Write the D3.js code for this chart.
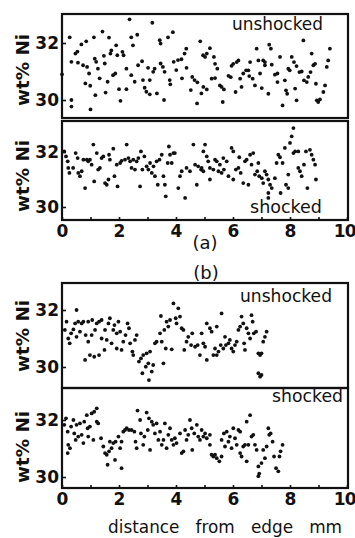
<!DOCTYPE html>
<html>
<head>
<meta charset="utf-8">
<script src="https://cdn.jsdelivr.net/npm/d3@7"></script>
<style>
  body { margin: 0; background: #fff; }
  svg { display: block; }
  text { font-family: "DejaVu Sans", sans-serif; fill: #111; }
  .tick line { stroke: #111; stroke-width: 1.6; }
  .tick text { font-size: 17px; font-weight: bold; }
</style>
</head>
<body>
<svg id="chart" width="355" height="538"></svg>
<script>
// Ni content (wt%) vs distance from edge (mm)
const aUnshocked = [
  [0.0,30.9],[0.27,32.2],[0.33,30.0],[0.33,29.77],[0.33,31.34],[0.47,31.63],[0.54,31.7],[0.68,31.95],
  [0.85,32.06],[0.56,31.31],[0.74,31.22],[0.88,31.16],[0.95,30.93],[0.82,30.58],[0.99,30.5],[1.0,29.67],
  [1.12,32.2],[1.15,31.45],[1.2,31.34],[1.17,30.17],[1.26,31.1],[1.32,30.76],[1.42,32.4],[1.47,31.55],
  [1.5,31.28],[1.53,30.26],[1.6,30.64],[1.65,32.19],[1.7,31.63],[1.73,31.74],[1.79,30.87],[1.87,30.93],
  [1.9,31.92],[1.94,31.57],[2.0,30.38],[2.05,29.97],[2.12,31.69],[2.16,31.57],[2.26,31.1],[2.26,30.38],
  [2.37,32.83],[2.43,32.2],[2.49,31.92],[2.43,30.87],[2.55,30.64],[2.64,32.29],[2.67,31.22],[2.81,31.36],
  [2.84,30.7],[2.9,30.43],[2.96,30.29],[3.02,31.13],[3.08,30.7],[3.08,30.2],[3.17,32.71],[3.2,30.99],
  [3.25,31.1],[3.33,30.23],[3.43,32.1],[3.46,31.98],[3.46,31.28],[3.54,31.16],[3.6,30.99],[3.58,30.0],
  [3.72,32.2],[3.78,30.7],[3.89,32.38],[3.8,30.55],[3.92,31.34],[4.01,31.05],[4.07,31.4],[4.19,31.43],
  [4.21,30.76],[4.3,31.63],[4.36,31.8],[4.37,31.13],[4.52,30.35],[4.57,30.81],[4.65,30.7],[4.74,29.88],
  [4.75,30.62],[4.85,32.06],[4.89,30.23],[4.95,31.57],
  [5.08,31.63],[5.19,31.82],[5.02,31.51],[5.33,31.51],[5.37,31.27],[5.45,31.1],[5.25,30.75],[5.37,30.77],
  [4.96,30.46],[5.08,30.37],[5.54,30.51],[5.6,30.46],[5.68,30.37],[5.64,29.93],[5.84,30.85],[5.92,30.8],
  [5.95,31.2],[6.01,31.27],[6.09,30.28],[6.13,31.33],[6.19,31.39],[6.25,30.75],[6.3,30.46],[6.36,30.93],
  [6.46,31.04],[6.54,31.04],[6.6,31.33],[6.57,30.84],[6.69,30.75],[6.77,30.51],[6.83,31.8],[6.89,31.39],
  [6.95,30.93],[7.01,30.42],[7.06,31.39],[7.12,31.33],[7.12,31.22],[7.24,30.22],[7.27,31.94],[7.33,31.8],
  [7.36,31.24],[7.47,30.89],[7.56,30.93],[7.56,30.63],[7.65,31.51],[7.74,29.81],[7.82,30.69],[7.86,30.34],
  [7.9,30.22],[7.94,31.1],[7.99,31.04],[8.06,31.51],[8.14,31.33],[8.18,30.4],[8.23,31.19],[8.23,29.99],
  [8.33,30.98],[8.41,31.0],[8.47,32.09],[8.49,30.69],[8.59,30.63],[8.64,30.81],[8.72,30.98],[8.76,31.63],
  [8.82,31.22],[8.88,31.27],[8.91,30.57],[8.94,29.99],[8.99,29.93],[9.05,30.02],[9.17,30.28],[9.23,30.51],
  [9.29,31.16],[9.34,31.39],[9.4,31.8]
];

const aShocked = [
  [0.08,32.02],[0.14,31.84],[0.2,31.66],[0.22,31.42],[0.26,31.24],[0.39,31.42],[0.48,31.96],[0.55,31.78],
  [0.57,31.24],[0.63,31.12],[0.69,31.3],[0.75,31.72],[0.81,30.69],[0.87,31.72],[0.92,31.66],[0.98,31.72],
  [1.04,31.54],[1.1,32.27],[1.13,30.93],[1.22,31.96],[1.27,31.36],[1.33,31.42],[1.39,31.78],[1.45,31.84],
  [1.51,30.87],[1.57,30.81],[1.63,31.0],[1.65,31.9],[1.68,31.72],[1.8,32.12],[1.84,31.12],[1.92,31.54],
  [1.95,30.75],[2.04,31.6],[2.09,31.68],[2.21,31.72],[2.27,32.27],[2.33,31.78],[2.39,31.66],[2.44,31.42],
  [2.5,31.72],[2.56,31.36],[2.62,31.66],[2.68,31.78],[2.74,30.75],[2.77,32.02],[2.82,31.36],[2.89,31.84],
  [2.97,31.48],[3.03,31.36],[3.09,31.6],[3.15,31.24],[3.21,31.48],[3.26,31.12],[3.32,31.66],[3.36,30.81],
  [3.42,31.72],[3.5,31.9],[3.56,31.12],[3.61,30.81],[3.64,30.39],[3.71,31.6],[3.75,32.2],[3.79,31.9],
  [3.85,31.6],[3.91,31.96],[3.96,31.96],[4.08,30.69],[4.14,31.12],[4.2,31.3],[4.32,30.33],[4.37,31.42],
  [4.49,31.3],[4.61,32.27],[4.73,30.81],[4.67,31.54],[4.78,31.48],[4.88,31.36],[4.96,32.02],
  [4.9,31.42],[5.02,32.27],[4.96,31.3],[5.08,31.84],[5.13,31.66],[5.19,31.42],[5.19,31.0],[5.31,31.36],
  [5.37,31.72],[5.43,31.66],[5.49,31.3],[5.54,31.54],[5.6,31.24],[5.66,31.78],[5.68,31.36],[5.78,31.66],
  [5.84,31.12],[5.95,32.15],[6.01,32.02],[6.01,31.0],[6.1,31.36],[6.19,31.42],[6.22,31.81],[6.27,31.24],
  [6.36,30.87],[6.42,31.66],[6.48,31.72],[6.54,30.81],[6.6,31.9],[6.65,31.54],[6.71,31.96],[6.77,31.18],
  [6.85,31.3],[6.89,31.6],[6.92,31.12],[7.01,31.05],[7.06,30.87],[7.12,31.3],[7.18,31.18],[7.24,31.0],
  [7.24,30.51],[7.24,30.33],[7.3,30.81],[7.36,30.69],[7.47,31.05],[7.53,31.6],[7.59,31.9],[7.65,31.81],
  [7.67,30.51],[7.74,31.6],[7.82,32.15],[7.86,30.81],[7.94,30.69],[7.94,31.18],[8.0,32.33],[8.06,32.57],
  [8.12,32.87],[8.12,31.96],[8.18,32.02],[8.29,32.02],[8.29,31.42],[8.35,31.3],[8.41,31.12],[8.49,31.54],
  [8.56,32.02],[8.61,30.69],[8.7,32.08],[8.76,31.9],[8.82,31.72],[8.88,31.54],[8.91,31.0]
];

const bUnshocked = [
  [0.1,31.3],[0.16,31.59],[0.22,31.0],[0.27,30.83],[0.32,31.18],[0.4,31.32],[0.46,31.53],[0.51,32.0],
  [0.51,31.06],[0.57,31.59],[0.63,31.24],[0.69,31.53],[0.75,31.59],[0.81,30.25],[0.83,31.12],[0.92,31.59],
  [0.92,30.89],[0.98,30.42],[1.04,31.12],[1.06,31.65],[1.13,30.36],[1.16,31.3],[1.22,31.53],[1.3,30.42],
  [1.3,31.59],[1.39,31.0],[1.39,31.65],[1.49,30.6],[1.51,31.3],[1.57,30.95],[1.63,31.53],[1.68,31.71],
  [1.74,30.83],[1.8,31.3],[1.84,31.47],[1.92,31.18],[1.92,30.65],[1.98,31.59],[2.04,31.24],[2.09,30.6],
  [2.15,30.89],[2.23,31.12],[2.3,31.53],[2.35,31.36],[2.39,30.83],[2.47,30.54],[2.5,30.42],[2.56,30.95],
  [2.62,31.12],[2.7,30.19],[2.77,30.3],[2.82,29.78],[2.85,30.42],[2.94,30.01],[2.97,30.48],[3.03,30.13],
  [3.05,29.54],[3.09,30.54],[3.15,29.84],[3.2,30.07],[3.26,30.83],[3.32,30.89],[3.44,31.18],[3.47,31.79],
  [3.5,30.89],[3.56,30.13],[3.59,31.3],[3.64,30.65],[3.67,31.59],[3.73,31.42],[3.79,31.65],[3.85,30.62],
  [3.91,32.23],[3.99,31.71],[4.02,31.53],[4.08,32.06],[4.14,31.77],[4.2,31.36],[4.26,31.3],[4.29,30.6],
  [4.37,30.89],[4.43,31.06],[4.53,30.77],[4.57,31.18],[4.67,30.71],[4.76,30.77],[4.84,30.42],[4.9,31.18],
  [4.96,30.83],[5.02,30.71],[5.08,31.53],[5.08,30.25],[5.19,31.36],[5.25,31.24],[5.31,30.42],[5.37,30.65],
  [5.43,31.42],[5.43,30.42],[5.49,30.54],[5.57,30.77],[5.6,31.88],[5.66,30.65],[5.72,31.06],[5.75,30.77],
  [5.84,30.83],[5.89,30.95],[5.95,30.65],[6.01,30.54],[6.07,30.77],[6.13,30.89],[6.19,31.3],[6.25,31.42],
  [6.3,31.77],[6.36,31.53],[6.39,30.83],[6.42,30.6],[6.48,31.36],[6.54,31.18],[6.6,31.0],[6.65,31.82],
  [6.69,31.59],[6.73,31.18],[6.81,31.24],[6.89,30.48],[6.95,30.42],[7.0,30.48],[6.89,29.78],[6.95,29.66],
  [7.0,29.72],[7.06,30.89],[7.12,31.06],[7.18,31.24]
];

const bShocked = [
  [0.08,31.83],[0.14,32.06],[0.2,31.59],[0.22,31.13],[0.2,30.84],[0.28,31.01],[0.32,31.77],[0.4,32.0],
  [0.43,31.53],[0.48,31.3],[0.51,31.83],[0.57,31.42],[0.63,31.88],[0.69,31.48],[0.75,31.19],[0.78,31.94],
  [0.87,32.17],[0.9,31.71],[0.92,31.42],[0.98,31.77],[1.04,32.23],[1.1,31.3],[1.13,32.29],[1.22,32.41],
  [1.22,31.94],[1.27,31.88],[1.37,31.36],[1.45,31.07],[1.51,30.84],[1.57,30.78],[1.6,30.43],[1.65,30.9],
  [1.68,31.24],[1.74,31.01],[1.8,31.19],[1.86,30.6],[1.88,31.24],[1.98,31.42],[2.04,31.01],[2.09,30.31],
  [2.09,31.24],[2.15,31.59],[2.21,31.65],[2.27,31.71],[2.35,31.65],[2.44,31.65],[2.54,31.59],[2.58,31.24],
  [2.62,31.01],[2.65,32.33],[2.74,32.0],[2.77,31.53],[2.85,31.13],[2.89,31.42],[2.97,32.26],[3.01,31.65],
  [3.05,32.06],[3.09,30.95],[3.15,31.94],[3.2,31.83],[3.26,31.53],[3.32,31.88],[3.38,31.3],[3.44,31.59],
  [3.5,31.13],[3.56,31.3],[3.61,31.88],[3.67,31.01],[3.73,31.48],[3.79,31.71],[3.85,31.3],[3.91,31.13],
  [3.96,31.36],[4.02,31.19],[4.14,31.53],[4.2,30.84],[4.26,30.9],[4.32,31.65],[4.37,31.3],[4.43,31.48],
  [4.49,32.0],[4.55,31.71],[4.57,30.95],[4.64,31.53],[4.73,31.83],[4.78,31.42],[4.84,31.3],[4.9,31.65],
  [4.96,31.42],[5.02,31.53],[5.08,31.36],[5.19,31.48],[5.19,31.13],[5.25,30.78],[5.31,30.72],[5.37,30.78],
  [5.43,30.66],[5.52,30.55],[5.6,30.72],[5.6,31.3],[5.68,31.53],[5.72,31.07],[5.78,31.59],[5.84,31.24],
  [5.89,31.42],[5.95,31.01],[6.01,31.71],[6.07,31.36],[6.13,31.13],[6.19,31.65],[6.25,31.59],[6.25,30.84],
  [6.3,30.72],[6.36,31.07],[6.42,31.13],[6.48,30.55],[6.48,31.94],[6.54,31.13],[6.6,32.17],[6.65,31.42],
  [6.71,31.48],[6.77,31.13],[6.83,30.95],[6.89,30.37],[6.92,30.12],[6.89,30.03],[7.0,30.49],[7.06,30.95],
  [7.12,30.66],[7.18,31.07],[7.24,31.71],[7.27,31.48],[7.32,31.53],[7.39,31.24],[7.44,30.72],[7.51,30.31],
  [7.59,30.2],[7.63,30.72],[7.67,30.9],[7.74,31.13]
];

const xTicks = d3.range(0, 11);
const yTicks = [30, 32];

// panel layout
const panels = [
  {data: aUnshocked, top: 14,  bottom: 118, y32: 43,  y30: 100, label: "unshocked", lx: 232, ly: 30,  lw: 91, xAxis: false, ylab: 70},
  {data: aShocked,   top: 121, bottom: 220, y32: 152, y30: 207, label: "shocked",   lx: 250, ly: 213, lw: 72, xAxis: true,  ylab: 176},
  {data: bUnshocked, top: 283, bottom: 388, y32: 310, y30: 367, label: "unshocked", lx: 240, ly: 302, lw: 92, xAxis: false, ylab: 336},
  {data: bShocked,   top: 388, bottom: 488, y32: 420, y30: 477, label: "shocked",   lx: 272, ly: 402, lw: 71, xAxis: true,  ylab: 447}
];

const svg = d3.select("#chart");
const x = d3.scaleLinear().domain([0, 10]).range([62, 347]);

panels.forEach(p => {
  const y = d3.scaleLinear().domain([30, 32]).range([p.y30, p.y32]);
  const g = svg.append("g");

  g.append("rect")
    .attr("x", 62).attr("y", p.top)
    .attr("width", 286).attr("height", p.bottom - p.top)
    .attr("fill", "none").attr("stroke", "#111").attr("stroke-width", 2.2);

  g.append("g")
    .attr("transform", "translate(62,0)")
    .call(d3.axisLeft(y).tickValues(yTicks).tickSize(-4).tickPadding(3).tickFormat(d3.format("d")))
    .call(a => a.select(".domain").remove());

  if (p.xAxis) {
    g.append("g")
      .attr("transform", `translate(0,${p.bottom})`)
      .call(d3.axisBottom(x).tickValues(xTicks).tickSize(-3).tickPadding(5)
        .tickFormat(d => d % 2 === 0 ? d : ""))
      .call(a => a.select(".domain").remove())
      .call(a => a.selectAll(".tick text").filter(d => d === 10)
        .attr("text-anchor", "end").attr("dx", 8).attr("letter-spacing", -1));
  }

  g.selectAll("circle")
    .data(p.data)
    .join("circle")
    .attr("cx", d => x(d[0]))
    .attr("cy", d => y(d[1]))
    .attr("r", 1.9)
    .attr("fill", "#111");

  g.append("text")
    .attr("x", p.lx).attr("y", p.ly)
    .attr("font-size", 17)
    .attr("textLength", p.lw).attr("lengthAdjust", "spacingAndGlyphs")
    .text(p.label);

  g.append("text")
    .attr("transform", `translate(29,${p.ylab}) rotate(-90)`)
    .attr("text-anchor", "middle")
    .attr("font-size", 18).attr("font-weight", "bold")
    .attr("textLength", 72).attr("lengthAdjust", "spacingAndGlyphs")
    .text("wt% Ni");
});

svg.append("text").attr("x", 205).attr("y", 249).attr("text-anchor", "middle")
  .attr("font-size", 18).text("(a)");
svg.append("text").attr("x", 206).attr("y", 279).attr("text-anchor", "middle")
  .attr("font-size", 18).text("(b)");

svg.append("text").attr("x", 108).attr("y", 533)
  .attr("font-size", 17).attr("textLength", 234).attr("lengthAdjust", "spacingAndGlyphs")
  .attr("xml:space", "preserve")
  .text("distance   from   edge   mm");
</script>
</body>
</html>
